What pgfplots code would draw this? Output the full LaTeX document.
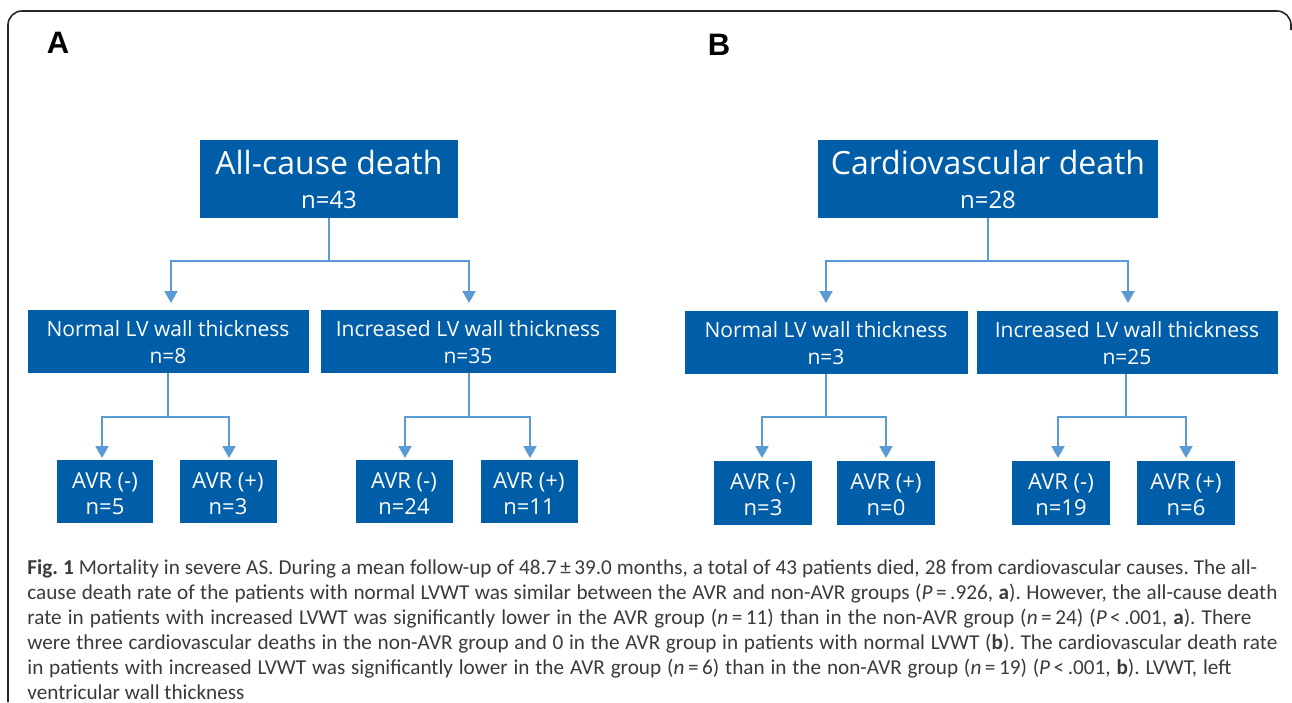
\documentclass[border=0pt]{standalone}
\usepackage{pgfplots}
\pgfplotsset{compat=1.18}
\usepackage{fontspec}
\setmainfont{Carlito}
\newfontfamily\boxfont{Open Sans}
\newfontfamily\labfont{Liberation Sans}
\usetikzlibrary{arrows.meta}
\definecolor{boxblue}{HTML}{005DA8}
\definecolor{linkblue}{HTML}{5B9BD5}
\definecolor{captext}{HTML}{3A3A3A}
% box: x1 y1 x2 y2 (pixel units of the figure)
\newcommand{\bbox}[4]{\fill[boxblue] (axis cs:#1,#2) rectangle (axis cs:#3,#4);}
\newcommand{\btxt}[4]{\node[text=white, inner sep=0pt, anchor=base, font=\boxfont\fontsize{#3}{#3}\selectfont] at (axis cs:#1,#2) {#4};}
\tikzset{link/.style={draw=linkblue, line width=1pt, line join=miter},
  arr/.style={link, {Triangle[width=6.5pt,length=6pt]}-{Triangle[width=6.5pt,length=6pt]}}}
\begin{document}
\begin{tikzpicture}
\begin{axis}[scale only axis, width=646pt, height=351pt,
  xmin=0, xmax=1292, ymin=0, ymax=702, y dir=reverse,
  hide axis, clip=false]
\addplot[draw=none] coordinates {(0,0) (1292,702)};
\path (axis cs:0,0) rectangle (axis cs:1292,702);
% frame
\draw[black!85, line width=0.8pt, rounded corners=7pt] (axis cs:8,702) -- (axis cs:8,11) -- (axis cs:1291,11) -- (axis cs:1291,30);
% panel labels
\node[anchor=base, font=\labfont\bfseries\fontsize{15.5}{15.5}\selectfont] at (axis cs:58,53) {A};
\node[anchor=base, font=\labfont\bfseries\fontsize{15.5}{15.5}\selectfont] at (axis cs:719,55) {B};

% ---------- Panel A ----------
\bbox{200}{140}{458}{218}
\btxt{329}{174}{16}{All-cause death}
\btxt{329}{208}{12}{n=43}
\draw[link] (axis cs:329,218) -- (axis cs:329,261);
\draw[arr] (axis cs:171,303) -- (axis cs:171,261) -- (axis cs:469,261) -- (axis cs:469,303);

\bbox{28}{310}{309}{373}
\btxt{168}{336}{10.5}{Normal LV wall thickness}
\btxt{168}{363}{10.5}{n=8}
\bbox{321}{310}{616}{373}
\btxt{468}{336}{10.5}{Increased LV wall thickness}
\btxt{468}{363}{10.5}{n=35}

\draw[link] (axis cs:168,373) -- (axis cs:168,417);
\draw[arr] (axis cs:102,458) -- (axis cs:102,417) -- (axis cs:229,417) -- (axis cs:229,458);
\draw[link] (axis cs:469,373) -- (axis cs:469,417);
\draw[arr] (axis cs:405,458) -- (axis cs:405,417) -- (axis cs:530,417) -- (axis cs:530,458);

\bbox{57}{460}{153}{523}
\btxt{105}{488}{11}{AVR (-)}
\btxt{105}{514}{11}{n=5}
\bbox{180}{460}{277}{523}
\btxt{228}{488}{11}{AVR (+)}
\btxt{228}{514}{11}{n=3}
\bbox{356}{460}{453}{523}
\btxt{404}{488}{11}{AVR (-)}
\btxt{404}{514}{11}{n=24}
\bbox{481}{460}{578}{523}
\btxt{529}{488}{11}{AVR (+)}
\btxt{529}{514}{11}{n=11}

% ---------- Panel B ----------
\bbox{818}{140}{1158}{218}
\btxt{988}{174}{16}{Cardiovascular death}
\btxt{988}{208}{12}{n=28}
\draw[link] (axis cs:988,218) -- (axis cs:988,261);
\draw[arr] (axis cs:826,303) -- (axis cs:826,261) -- (axis cs:1128,261) -- (axis cs:1128,303);

\bbox{685}{311}{968}{374}
\btxt{826}{337}{10.5}{Normal LV wall thickness}
\btxt{826}{364}{10.5}{n=3}
\bbox{977}{311}{1278}{374}
\btxt{1127}{337}{10.5}{Increased LV wall thickness}
\btxt{1127}{364}{10.5}{n=25}

\draw[link] (axis cs:826,374) -- (axis cs:826,417);
\draw[arr] (axis cs:762,458) -- (axis cs:762,417) -- (axis cs:886,417) -- (axis cs:886,458);
\draw[link] (axis cs:1126,374) -- (axis cs:1126,417);
\draw[arr] (axis cs:1058,458) -- (axis cs:1058,417) -- (axis cs:1186,417) -- (axis cs:1186,458);

\bbox{714}{461}{812}{525}
\btxt{763}{489}{11}{AVR (-)}
\btxt{763}{515}{11}{n=3}
\bbox{837}{461}{935}{525}
\btxt{886}{489}{11}{AVR (+)}
\btxt{886}{515}{11}{n=0}
\bbox{1012}{461}{1110}{525}
\btxt{1061}{489}{11}{AVR (-)}
\btxt{1061}{515}{11}{n=19}
\bbox{1137}{461}{1235}{525}
\btxt{1186}{489}{11}{AVR (+)}
\btxt{1186}{515}{11}{n=6}

% ---------- Caption ----------
\node[anchor=base west, inner sep=0pt, text=captext] at (axis cs:27,574) {%
\parbox[t]{625pt}{\fontsize{10.6}{12.5}\selectfont\frenchspacing
\makebox[615pt][s]{\textbf{Fig. 1} Mortality in severe AS. During a mean follow-up of 48.7\,±\,39.0 months, a total of 43 patients died, 28 from cardiovascular causes. The all-}\\
\makebox[625pt][s]{cause death rate of the patients with normal LVWT was similar between the AVR and non-AVR groups (\textit{P}\,=\,.926, \textbf{a}). However, the all-cause death}\\
\makebox[612pt][s]{rate in patients with increased LVWT was significantly lower in the AVR group (\textit{n}\,=\,11) than in the non-AVR group (\textit{n}\,=\,24) (\textit{P}\,<\,.001, \textbf{a}). There}\\
\makebox[625pt][s]{were three cardiovascular deaths in the non-AVR group and 0 in the AVR group in patients with normal LVWT (\textbf{b}). The cardiovascular death rate}\\
\makebox[602pt][s]{in patients with increased LVWT was significantly lower in the AVR group (\textit{n}\,=\,6) than in the non-AVR group (\textit{n}\,=\,19) (\textit{P}\,<\,.001, \textbf{b}). LVWT, left}\\
ventricular wall thickness}};
\end{axis}
\end{tikzpicture}
\end{document}
